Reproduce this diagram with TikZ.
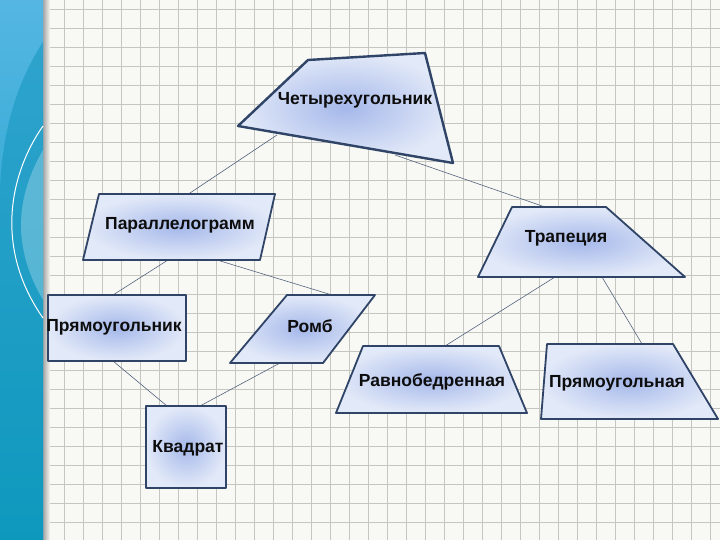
\documentclass[tikz,border=0pt]{standalone}
\usepackage{fontspec}
\setmainfont{Liberation Sans}
\definecolor{paper}{HTML}{F8F8F4}
\definecolor{gridcol}{HTML}{C6C6C0}
\definecolor{barTop}{HTML}{55B6E3}
\definecolor{barBot}{HTML}{0A9CBE}
\definecolor{barDark}{HTML}{1496BE}
\definecolor{boxline}{HTML}{2F4467}
\definecolor{boxin}{HTML}{A5B8EA}
\definecolor{boxout}{HTML}{E2E9F8}
\definecolor{linkcol}{HTML}{55657E}

\begin{document}
\begin{tikzpicture}[x=1pt, y=-1pt,
    box/.style={draw=boxline, line width=1.8pt, line join=round, inner color=boxin, outer color=boxout},
    lbl/.style={font=\bfseries\fontsize{17.5}{20}\selectfont, text=black!95, inner sep=0pt},
    link/.style={draw=linkcol, line width=0.6pt}]
      \path[use as bounding box] (0, 0) rectangle (720, 540);
      \fill[paper] (0, 0) rectangle (720, 540);

      % grid
      \foreach \i in {0, 1, ..., 36} {
        \draw[gridcol, line width=0.7pt] (45+19*\i, 0) -- (45+19*\i, 540);
      }
      \foreach \j in {0, 1, ..., 28} {
        \draw[gridcol, line width=0.7pt] (43, 9+19*\j) -- (720, 9+19*\j);
      }

      % side bar
      \shade[left color=black!35, right color=paper] (43, 0) rectangle (50, 540);
      \shade[top color=barTop, bottom color=barBot] (0, 0) rectangle (43, 540);
      \fill[barDark, opacity=0.55] (43, 42) .. controls (18, 80) and (2, 130) .. (0, 190) -- (0, 540) -- (43, 540) -- cycle;
      \fill[white, opacity=0.25] (43, 150) .. controls (20, 190) and (8, 240) .. (43, 300) -- cycle;
      \draw[white, line width=1pt] (43, 126) .. controls (12, 170) and (-8, 245) .. (43, 318);

      % anchors of the links
      \coordinate (Q_w) at (277, 135);
      \coordinate (Q_e) at (395, 155);
      \coordinate (P_n) at (187, 195);
      \coordinate (P_w) at (168, 260);
      \coordinate (P_e) at (217, 260);
      \coordinate (T_n) at (545, 207);
      \coordinate (T_w) at (555, 277);
      \coordinate (T_e) at (602, 277);
      \coordinate (Pr_n) at (113, 295);
      \coordinate (Pr_s) at (113, 361);
      \coordinate (Rh_n) at (332, 295);
      \coordinate (Rh_s) at (280, 363);
      \coordinate (Iso_n) at (445, 346);
      \coordinate (RT_n) at (642, 344);
      \coordinate (Sq_w) at (167, 406);
      \coordinate (Sq_e) at (200, 406);

      % links
      \draw[link] (Q_w) -- (P_n);
      \draw[link] (Q_e) -- (T_n);
      \draw[link] (P_w) -- (Pr_n);
      \draw[link] (P_e) -- (Rh_n);
      \draw[link] (T_w) -- (Iso_n);
      \draw[link] (T_e) -- (RT_n);
      \draw[link] (Pr_s) -- (Sq_w);
      \draw[link] (Rh_s) -- (Sq_e);

      % shapes
      \path[box, line width=2.4pt] (308, 60) -- (425, 53) -- (453, 163) -- (238, 126) -- cycle;
      \path[box] (99, 194) -- (275, 194) -- (260, 260) -- (83, 260) -- cycle;
      \path[box] (512, 207) -- (606, 207) -- (685, 277) -- (478, 277) -- cycle;
      \path[box] (48, 295) rectangle (186, 361);
      \path[box] (287, 295) -- (375, 295) -- (323, 363) -- (230, 363) -- cycle;
      \path[box] (363, 346) -- (499, 346) -- (527, 413) -- (336, 413) -- cycle;
      \path[box] (547, 344) -- (673, 344) -- (718, 419) -- (541, 419) -- cycle;
      \path[box] (146, 406) rectangle (226, 488);

      % labels
      \node[lbl] (Q) at (355, 100) {Четырехугольник};
      \node[lbl] (P) at (180, 225) {Параллелограмм};
      \node[lbl] (T) at (566, 238) {Трапеция};
      \node[lbl] (Pr) at (114, 327) {Прямоугольник};
      \node[lbl] (Rh) at (310, 326) {Ромб};
      \node[lbl] (Iso) at (432, 382) {Равнобедренная};
      \node[lbl] (RT) at (617, 383) {Прямоугольная};
      \node[lbl] (Sq) at (188, 448) {Квадрат};
    \end{tikzpicture}
\end{document}
